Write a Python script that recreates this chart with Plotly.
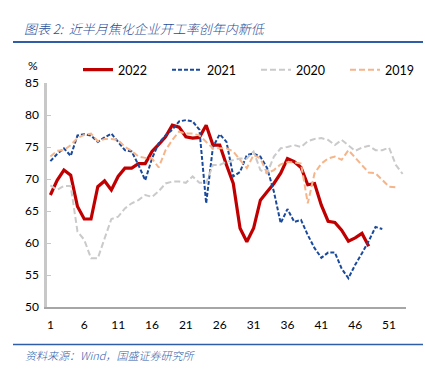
import plotly.graph_objects as go

weeks_2022 = list(range(1, 49))
vals_2022 = [67.5, 69.8, 71.4, 70.6, 65.7, 63.75, 63.75, 68.8, 69.7, 68.3,
             70.4, 71.7, 71.7, 72.4, 72.4, 74.3, 75.4, 76.6, 78.4, 78.1,
             76.6, 76.4, 76.5, 78.4, 75.3, 75.3, 72.2, 69.3, 62.3, 60.2,
             62.3, 66.7, 68.0, 69.3, 70.9, 73.2, 72.7, 71.8, 69.1, 69.3,
             65.9, 63.4, 63.2, 62.0, 60.3, 60.8, 61.5, 59.5]

weeks_2021 = list(range(1, 51))
vals_2021 = [72.8, 73.9, 74.8, 73.6, 76.8, 77.0, 76.8, 75.8, 76.5, 77.1,
             75.8, 74.5, 74.3, 72.2, 69.8, 73.2, 75.6, 76.8, 77.7, 79.0,
             79.2, 79.0, 77.7, 66.2, 75.0, 77.0, 75.8, 70.4, 71.1, 73.75,
             74.0, 73.5, 71.7, 68.0, 63.1, 65.3, 63.3, 63.6, 61.25, 59.2,
             57.7, 58.5, 58.5, 56.0, 54.5, 56.6, 58.4, 60.3, 62.5, 62.2]

weeks_2020 = list(range(1, 54))
vals_2020 = [69.0, 68.3, 68.9, 68.9, 61.8, 60.5, 57.6, 57.6, 60.7, 63.75,
             64.1, 65.4, 66.2, 66.7, 67.5, 67.2, 68.1, 69.3, 69.6, 69.6,
             69.4, 70.4, 69.4, 69.4, 72.2, 72.2, 72.7, 73.0, 73.2, 73.2,
             74.3, 71.4, 70.9, 73.5, 74.8, 75.0, 75.3, 75.0, 75.9, 76.25,
             76.4, 76.1, 75.3, 76.1, 75.3, 74.4, 74.9, 75.2, 74.5, 74.5,
             74.9, 72.2, 70.8]

weeks_2019 = list(range(1, 53))
vals_2019 = [73.5, 74.4, 74.5, 75.3, 76.4, 76.9, 77.1, 75.9, 76.25, 76.25,
             76.1, 75.0, 74.4, 73.5, 73.3, 73.2, 71.8, 74.5, 76.1, 77.4,
             77.1, 77.1, 76.8, 75.8, 74.8, 74.8, 74.8, 74.3, 73.0, 71.7,
             73.75, 73.2, 70.9, 71.4, 72.3, 72.6, 72.6, 72.4, 66.2, 70.9,
             72.4, 73.2, 73.5, 73.0, 74.5, 73.3, 72.2, 71.0, 70.9, 69.8,
             68.8, 68.7]

x_ticks = [1, 6, 11, 16, 21, 26, 31, 36, 41, 46, 51]
y_ticks = [50, 55, 60, 65, 70, 75, 80, 85]

title_text = "图表 2:  近半月焦化企业开工率创年内新低"
source_text = "资料来源：Wind，国盛证券研究所"

fig = go.Figure()
fig.add_trace(go.Scatter(x=weeks_2022, y=vals_2022, name="2022", mode="lines",
                         line=dict(color="#C00000", width=3.2)))
fig.add_trace(go.Scatter(x=weeks_2021, y=vals_2021, name="2021", mode="lines",
                         line=dict(color="#1A4A9C", width=2, dash="4px,2px")))
fig.add_trace(go.Scatter(x=weeks_2020, y=vals_2020, name="2020", mode="lines",
                         line=dict(color="#CACACA", width=2, dash="6px,3px")))
fig.add_trace(go.Scatter(x=weeks_2019, y=vals_2019, name="2019", mode="lines",
                         line=dict(color="#F5B489", width=2, dash="6px,3px")))

L, R, T, B = 47, 19, 83, 68
W, H = 425, 375
pw, ph = W - L - R, H - T - B

def px(x):
    return (x - L) / pw

def py(y):
    return (H - B - y) / ph

fig.update_layout(
    width=W, height=H,
    margin=dict(l=L, r=R, t=T, b=B, autoexpand=False),
    paper_bgcolor="white", plot_bgcolor="white",
    font=dict(family="Lato, Liberation Sans, sans-serif", size=12, color="#000"),
    showlegend=True,
    legend=dict(orientation="h", x=px(78), y=py(70), xanchor="left", yanchor="middle",
                entrywidth=44, entrywidthmode="pixels",
                font=dict(size=12.5, color="#000"), bgcolor="rgba(0,0,0,0)",
                tracegroupgap=0),
    xaxis=dict(range=[0.5, 53.5], tickmode="array", tickvals=x_ticks,
               ticktext=[str(t) for t in x_ticks], showgrid=False, zeroline=False,
               showline=True, linecolor="#A6A6A6", linewidth=1.5, ticks="",
               ticklabelstandoff=6, tickfont=dict(size=12)),
    yaxis=dict(range=[50, 85], tickmode="array", tickvals=y_ticks,
               ticktext=[str(t) for t in y_ticks], showgrid=False, zeroline=False,
               showline=True, linecolor="#C8C8C8", linewidth=2.5, ticks="inside",
               ticklen=4, tickcolor="#C8C8C8", tickwidth=1,
               ticklabelstandoff=3, tickfont=dict(size=12)),
    shapes=[
        dict(type="line", xref="paper", yref="paper", x0=px(13), x1=px(423),
             y0=py(42), y1=py(42), line=dict(color="#2F5DA8", width=2)),
        dict(type="line", xref="paper", yref="paper", x0=px(13), x1=px(423),
             y0=py(344.5), y1=py(344.5), line=dict(color="#2F5DA8", width=1.5)),
    ],
    annotations=[
        dict(text="<i>" + title_text + "</i>", xref="paper", yref="paper",
             x=px(22), y=py(29), xanchor="left", yanchor="middle", showarrow=False,
             font=dict(family="Noto Sans CJK SC, sans-serif", size=13, color="#1F4E9A",
                       weight=300)),
        dict(text="<i>" + source_text + "</i>", xref="paper", yref="paper",
             x=px(23), y=py(355), xanchor="left", yanchor="middle", showarrow=False,
             font=dict(family="Noto Sans CJK SC, sans-serif", size=11, color="#2F5DA8",
                       weight=300)),
        dict(text="%", xref="paper", yref="paper", x=px(33), y=py(66),
             xanchor="center", yanchor="middle", showarrow=False,
             font=dict(size=12, color="#000")),
    ],
)

fig.write_html("out.html",
               config={"displayModeBar": False},
               post_script="document.body.style.margin='0';document.body.style.overflow='hidden';")
